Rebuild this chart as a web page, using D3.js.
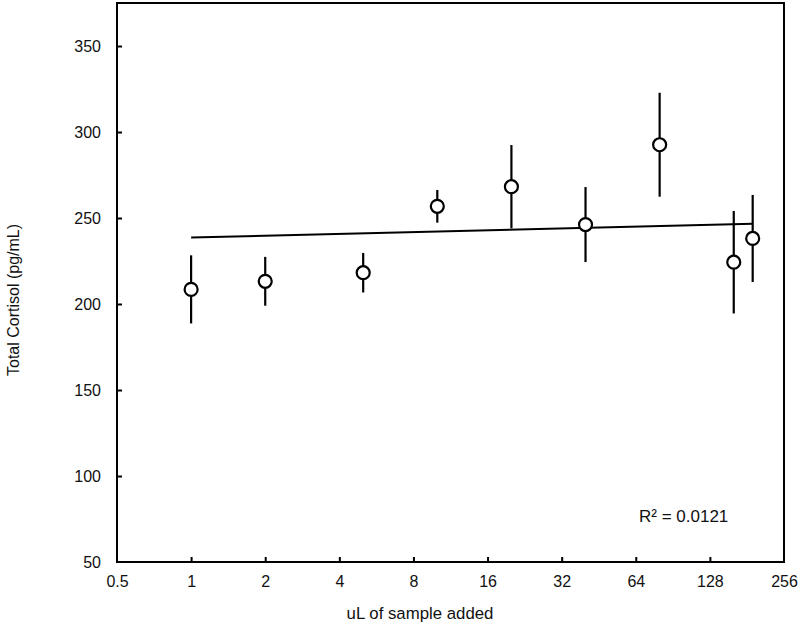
<!DOCTYPE html>
<html>
<head>
<meta charset="utf-8">
<script src="https://cdn.jsdelivr.net/npm/d3@7"></script>
<style>
  html, body { margin: 0; padding: 0; background: #fff; }
  svg { display: block; font-family: "Liberation Sans", Arial, Helvetica, sans-serif; }
</style>
</head>
<body>
<svg id="chart" width="800" height="630"></svg>
<script>
// ---- data ----
const volumes = [1, 2, 5, 10, 20, 40, 80, 160, 191];
const cortisol = [208.5, 213.2, 218.2, 256.8, 268.2, 246.2, 292.6, 224.3, 238.1];
const errors = [19.8, 14.2, 11.5, 9.5, 24.2, 21.8, 30.2, 29.8, 25.3];
const trendX = [1, 191];
const trendY = [238.6, 246.6];
const xTicks = [0.5, 1, 2, 4, 8, 16, 32, 64, 128, 256];
const yTicks = [50, 100, 150, 200, 250, 300, 350];
const r2Label = "R\u00B2 = 0.0121";
const xTitle = "uL of sample added";
const yTitle = "Total Cortisol (pg/mL)";

// ---- layout ----
const svg = d3.select("#chart");
const mLeft = 117, mRight = 784, mTop = 3, mBottom = 562;

const x = d3.scaleLog().base(2).domain([0.5, 256]).range([mLeft, mRight]);
const y = d3.scaleLinear().domain([50, 375]).range([mBottom, mTop]);

// frame
svg.append("rect")
  .attr("x", mLeft).attr("y", mTop)
  .attr("width", mRight - mLeft).attr("height", mBottom - mTop)
  .attr("fill", "none").attr("stroke", "#000").attr("stroke-width", 2);

// axes (ticks inward)
const xAxis = d3.axisBottom(x).tickValues(xTicks).tickFormat(d => String(d)).tickSizeInner(-5).tickSizeOuter(0).tickPadding(14);
const gx = svg.append("g").attr("transform", `translate(0,${mBottom})`).call(xAxis);
gx.select(".domain").remove();
gx.selectAll(".tick line").attr("stroke", "#000").attr("stroke-width", 2)
  .filter(d => d === 0.5 || d === 256).remove();
gx.selectAll(".tick text").attr("font-size", 16).attr("fill", "#111")
  .attr("font-family", "'Liberation Sans', Arial, sans-serif");

const yAxis = d3.axisLeft(y).tickValues(yTicks).tickSizeInner(-5).tickSizeOuter(0).tickPadding(16);
const gy = svg.append("g").attr("transform", `translate(${mLeft},0)`).call(yAxis);
gy.select(".domain").remove();
gy.selectAll(".tick line").attr("stroke", "#000").attr("stroke-width", 2)
  .filter(d => d === 50).remove();
gy.selectAll(".tick text").attr("font-size", 16).attr("fill", "#111")
  .attr("font-family", "'Liberation Sans', Arial, sans-serif");

// trend line
svg.append("line")
  .attr("x1", x(trendX[0])).attr("y1", y(trendY[0]))
  .attr("x2", x(trendX[1])).attr("y2", y(trendY[1]))
  .attr("stroke", "#000").attr("stroke-width", 2);

// error bars
const pts = volumes.map((v, i) => ({ v, c: cortisol[i], e: errors[i] }));
svg.append("g").selectAll("line").data(pts).join("line")
  .attr("x1", d => x(d.v)).attr("x2", d => x(d.v))
  .attr("y1", d => y(d.c - d.e)).attr("y2", d => y(d.c + d.e))
  .attr("stroke", "#000").attr("stroke-width", 2.2);

// points
svg.append("g").selectAll("circle").data(pts).join("circle")
  .attr("cx", d => x(d.v)).attr("cy", d => y(d.c))
  .attr("r", 6.5)
  .attr("fill", "#fff").attr("stroke", "#000").attr("stroke-width", 2.2);

// R² label
svg.append("text").attr("x", 639).attr("y", 522)
  .attr("font-size", 17).attr("fill", "#111").text(r2Label);

// axis titles
svg.append("text").attr("x", 420).attr("y", 619)
  .attr("text-anchor", "middle").attr("font-size", 16.8).attr("fill", "#111").text(xTitle);
svg.append("text").attr("transform", `translate(19,300) rotate(-90)`)
  .attr("text-anchor", "middle").attr("font-size", 16).attr("fill", "#111").text(yTitle);
</script>
</body>
</html>
